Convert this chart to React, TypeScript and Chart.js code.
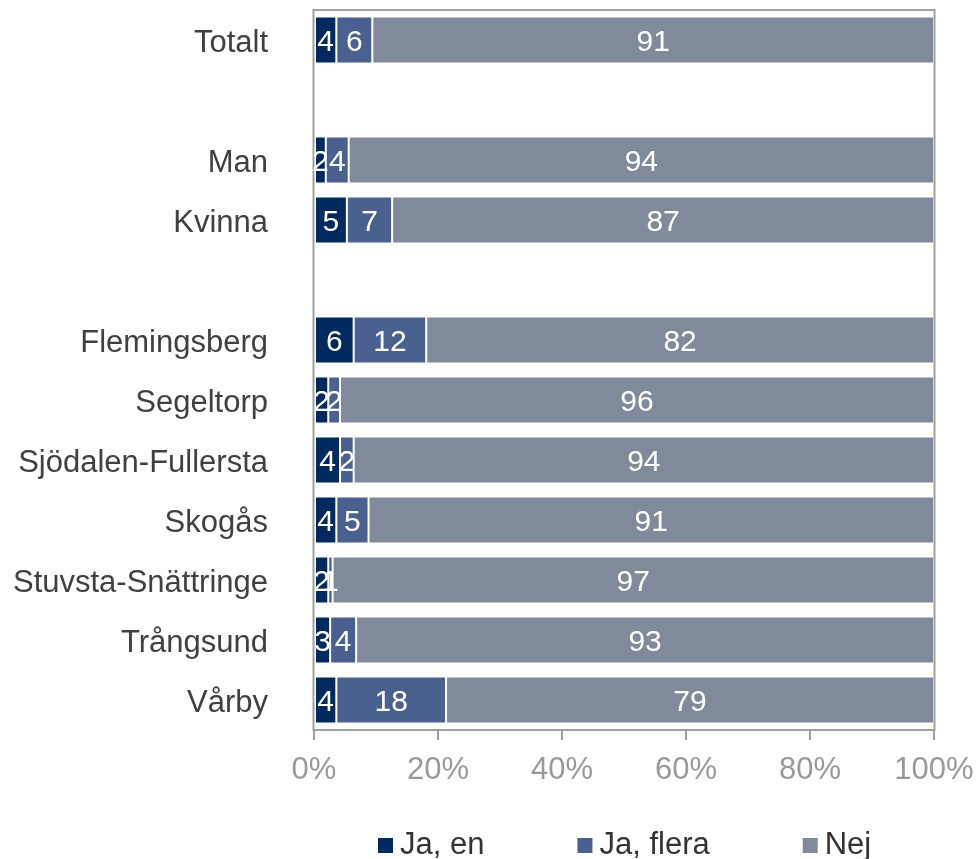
import React, { useEffect, useRef } from 'react';
import { Chart, registerables } from 'chart.js';

Chart.register(...registerables);

const categories = ['Totalt', '', 'Man', 'Kvinna', '', 'Flemingsberg', 'Segeltorp', 'Sjödalen-Fullersta', 'Skogås', 'Stuvsta-Snättringe', 'Trångsund', 'Vårby'];
const jaEn = [3.6, null, 1.9, 5.3, null, 6.4, 2.3, 4.2, 3.6, 2.3, 2.6, 3.6];
const jaFlera = [5.8, null, 3.7, 7.3, null, 11.7, 1.9, 2.2, 5.2, 0.7, 4.2, 17.7];
const nej = [90.6, null, 94.4, 87.4, null, 81.9, 95.8, 93.6, 91.2, 97.0, 93.2, 78.7];
const seriesNames = ['Ja, en', 'Ja, flera', 'Nej'];
const tickStep = 20;

const COLORS = ['#002A5E', '#4A6190', '#818A9B'];
const FONT = '"Liberation Sans", Arial, sans-serif';
const FRAME = '#A0A0A0';
const FS = 31;

const framePlugin = {
  id: 'frame',
  afterDatasetsDraw(chart: any) {
    const { ctx, chartArea: a } = chart;
    ctx.save();
    ctx.strokeStyle = FRAME;
    ctx.lineWidth = 2;
    ctx.strokeRect(a.left - 0.5, a.top, a.right - a.left + 1, a.bottom - a.top);
    ctx.restore();
  },
};

const labelPlugin = {
  id: 'segLabels',
  afterDatasetsDraw(chart: any) {
    const { ctx } = chart;
    ctx.save();
    ctx.fillStyle = '#FFFFFF';
    ctx.font = `30px ${FONT}`;
    ctx.textAlign = 'center';
    ctx.textBaseline = 'middle';
    chart.data.datasets.forEach((ds: any, di: number) => {
      const meta = chart.getDatasetMeta(di);
      meta.data.forEach((el: any, i: number) => {
        const v = ds.data[i];
        if (v === null || v === undefined) return;
        const cx = (el.x + el.base) / 2;
        ctx.fillText(String(Math.round(v)), cx, el.y + 2.5);
      });
    });
    ctx.restore();
  },
};

const legendPlugin = {
  id: 'customLegend',
  afterDraw(chart: any) {
    const { ctx } = chart;
    ctx.save();
    ctx.font = `${FS}px ${FONT}`;
    ctx.textBaseline = 'middle';
    ctx.textAlign = 'left';
    let x = 378;
    const y = 845;
    chart.data.datasets.forEach((ds: any) => {
      ctx.fillStyle = ds.backgroundColor;
      ctx.fillRect(x, y - 7, 15, 15);
      ctx.fillStyle = '#333333';
      ctx.fillText(ds.label, x + 22, y);
      x += 22 + ctx.measureText(ds.label).width + 93;
    });
    ctx.restore();
  },
};

export default function App() {
  const ref = useRef<HTMLCanvasElement | null>(null);

  useEffect(() => {
    document.body.style.margin = '0';
    if (!ref.current) return;
    const series = [jaEn, jaFlera, nej];
    const chart = new Chart(ref.current, {
      type: 'bar',
      data: {
        labels: categories,
        datasets: series.map((d, i) => ({
          label: seriesNames[i],
          data: d,
          backgroundColor: COLORS[i],
          borderColor: 'rgba(255,255,255,0.35)',
          borderWidth: 1,
          borderSkipped: false,
          barPercentage: 0.78,
          categoryPercentage: 1,
        })),
      },
      options: {
        indexAxis: 'y',
        responsive: false,
        animation: false,
        layout: { padding: { top: 10, right: 43, left: 0, bottom: 0 } },
        plugins: {
          legend: { display: false },
          tooltip: { enabled: false },
        },
        scales: {
          x: {
            stacked: true,
            min: 0,
            max: 100,
            ticks: {
              stepSize: tickStep,
              callback: (v: any) => `${v}%`,
              font: { size: FS, family: FONT },
              color: '#999999',
              padding: 12,
              maxRotation: 0,
            },
            grid: {
              drawOnChartArea: false,
              drawTicks: true,
              tickLength: 10,
              color: FRAME,
              lineWidth: 2,
            },
            border: { display: true, color: FRAME, width: 2 },
            afterFit: (s: any) => {
              s.height = 129;
              s.paddingLeft = 0;
              s.paddingRight = 0;
            },
          },
          y: {
            stacked: true,
            ticks: {
              font: { size: FS, family: FONT },
              color: '#404040',
              padding: 46,
              autoSkip: false,
              labelOffset: 3,
            },
            grid: { display: false, drawTicks: false },
            border: { display: false },
            afterFit: (s: any) => {
              s.width = 314;
              s.paddingTop = 0;
              s.paddingBottom = 0;
            },
          },
        },
      },
      plugins: [framePlugin, labelPlugin, legendPlugin],
    });
    return () => chart.destroy();
  }, []);

  return (
    <div style={{ width: 977, height: 859 }}>
      <canvas ref={ref} width={977} height={859} style={{ display: 'block' }} />
    </div>
  );
}
